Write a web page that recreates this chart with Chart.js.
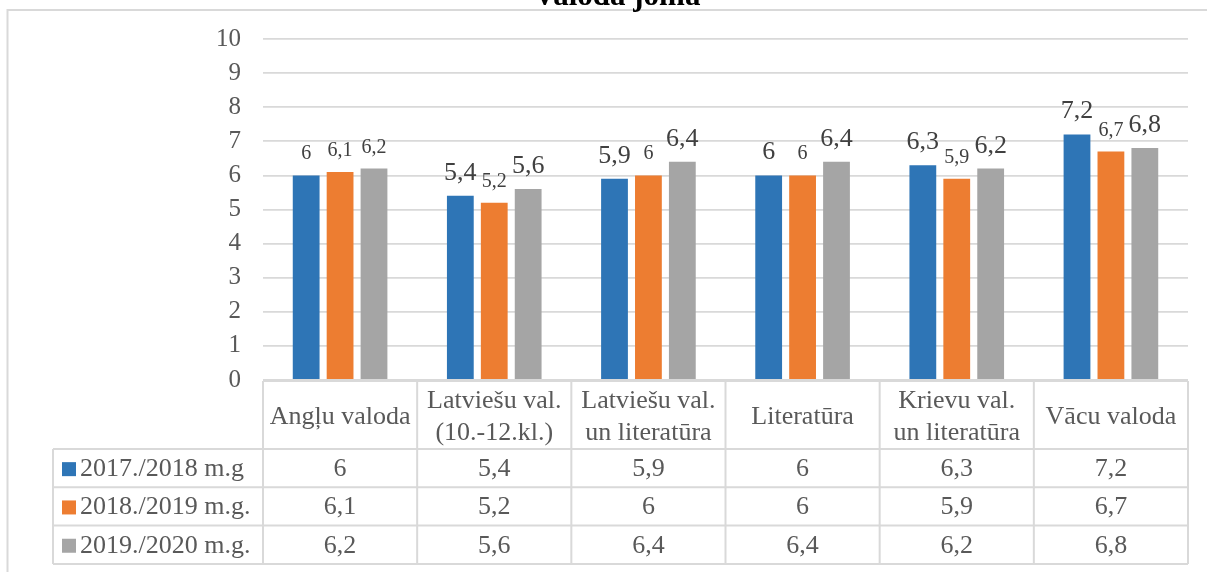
<!DOCTYPE html>
<html><head><meta charset="utf-8">
<script src="https://cdn.jsdelivr.net/npm/chart.js@4"></script>
<style>
html,body{margin:0;padding:0;background:#fff;}
#wrap{position:relative;width:1207px;height:572px;}
</style>
</head><body>
<div id="wrap"><canvas id="c"></canvas></div>
<script>
// ---- data ----
const chartTitle = 'Valoda joma';
const categories = [
  ['Angļu valoda'],
  ['Latviešu val.', '(10.-12.kl.)'],
  ['Latviešu val.', 'un literatūra'],
  ['Literatūra'],
  ['Krievu val.', 'un literatūra'],
  ['Vācu valoda']
];
const seriesNames = ['2017./2018 m.g', '2018./2019 m.g.', '2019./2020 m.g.'];
const values2017 = [6, 5.4, 5.9, 6, 6.3, 7.2];
const values2018 = [6.1, 5.2, 6, 6, 5.9, 6.7];
const values2019 = [6.2, 5.6, 6.4, 6.4, 6.2, 6.8];
const yMin = 0, yMax = 10, yStep = 1;

// ---- style ----
const seriesColors = ['#2E75B6', '#ED7D31', '#A5A5A5'];
const labelFontSizes = [
  [20, 26, 26, 26, 26, 26],
  [20, 20, 20, 20, 20, 20],
  [20, 26, 26, 26, 26, 26]
];
const FONT = '"Liberation Serif", "Times New Roman", serif';
const fmt = v => String(v).replace('.', ',');

const seriesValues = [values2017, values2018, values2019];

const labelPlugin = {
  id: 'barLabels',
  afterDatasetsDraw(chart) {
    const ctx = chart.ctx;
    ctx.save();
    ctx.fillStyle = '#404040';
    ctx.textAlign = 'center';
    ctx.textBaseline = 'alphabetic';
    chart.data.datasets.forEach((ds, di) => {
      const meta = chart.getDatasetMeta(di);
      meta.data.forEach((bar, i) => {
        ctx.font = labelFontSizes[di][i] + 'px ' + FONT;
        ctx.fillText(fmt(ds.data[i]), bar.x, bar.y - 16);
      });
    });
    ctx.restore();
  }
};

const tablePlugin = {
  id: 'dataTable',
  afterDraw(chart) {
    const ctx = chart.ctx;
    const xs = chart.scales.x;
    const area = chart.chartArea;
    const n = categories.length;
    const colW = (area.right - area.left) / n;
    const top = area.bottom + 1;
    const headerBottom = top + 68;
    const rowH = 38.3;
    const tableLeft = 53;
    const right = xs.getPixelForValue(n - 1) + colW / 2;
    const bottom = headerBottom + rowH * seriesNames.length;
    ctx.save();
    ctx.strokeStyle = '#D9D9D9';
    ctx.lineWidth = 2;
    ctx.beginPath();
    // header top
    ctx.moveTo(area.left, top); ctx.lineTo(right, top);
    // horizontal row lines
    for (let r = 0; r <= seriesNames.length; r++) {
      const y = headerBottom + r * rowH;
      ctx.moveTo(tableLeft, y); ctx.lineTo(right, y);
    }
    // vertical column lines
    for (let i = 0; i <= n; i++) {
      const x = (i < n ? xs.getPixelForValue(i) - colW / 2 : right);
      ctx.moveTo(x, top); ctx.lineTo(x, bottom);
    }
    ctx.moveTo(tableLeft, headerBottom); ctx.lineTo(tableLeft, bottom);
    ctx.stroke();

    ctx.fillStyle = '#595959';
    ctx.font = '26px ' + FONT;
    ctx.textAlign = 'center';
    ctx.textBaseline = 'middle';
    // headers
    categories.forEach((lines, i) => {
      const cx = xs.getPixelForValue(i);
      const cy = (top + headerBottom) / 2 + 2;
      const lh = 32;
      lines.forEach((t, k) => {
        ctx.fillText(t, cx, cy + (k - (lines.length - 1) / 2) * lh);
      });
    });
    // rows
    seriesNames.forEach((name, r) => {
      const cy = headerBottom + r * rowH + rowH / 2 + 1;
      ctx.fillStyle = seriesColors[r];
      ctx.fillRect(62, cy - 7, 14, 14);
      ctx.fillStyle = '#595959';
      ctx.textAlign = 'left';
      ctx.fillText(name, 80, cy);
      ctx.textAlign = 'center';
      seriesValues[r].forEach((v, i) => {
        ctx.fillText(fmt(v), xs.getPixelForValue(i), cy);
      });
    });

    // outer frame
    ctx.beginPath();
    ctx.moveTo(7.5, chart.height); ctx.lineTo(7.5, 10); ctx.lineTo(chart.width, 10);
    ctx.stroke();
    // title (clipped at top)
    ctx.fillStyle = '#000';
    ctx.font = 'bold 31px ' + FONT;
    ctx.textAlign = 'center';
    ctx.textBaseline = 'alphabetic';
    ctx.fillText(chartTitle, 617, 5);
    ctx.restore();
  }
};

new Chart(document.getElementById('c'), {
  type: 'bar',
  data: {
    labels: categories,
    datasets: seriesNames.map((name, i) => ({
      label: name,
      data: seriesValues[i],
      backgroundColor: seriesColors[i],
      borderWidth: 0,
      barPercentage: 0.79,
      categoryPercentage: 0.66
    }))
  },
  options: {
    responsive: true,
    maintainAspectRatio: false,
    animation: false,
    events: [],
    layout: { padding: { top: 39, right: 19, bottom: 192, left: 0 } },
    plugins: { legend: { display: false }, title: { display: false }, tooltip: { enabled: false } },
    scales: {
      x: { display: false },
      y: {
        min: yMin, max: yMax,
        ticks: { stepSize: yStep, padding: 22, color: '#595959', font: { family: FONT, size: 25 } },
        grid: { color: '#D9D9D9', lineWidth: 1.8, drawTicks: false },
        border: { display: false },
        afterFit(scale) { scale.width = 263; }
      }
    }
  },
  plugins: [labelPlugin, tablePlugin]
});
</script>
</body></html>
